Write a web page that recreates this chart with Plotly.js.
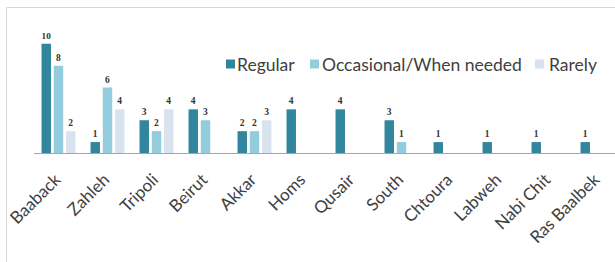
<!DOCTYPE html>
<html><head><meta charset="utf-8">
<script src="https://cdn.plot.ly/plotly-3.0.1.min.js"></script>
<style>html,body{margin:0;padding:0;background:#fff}#chart{width:615px;height:262px}</style>
</head><body><div id="chart"></div>
<script>
const categories = ["Baaback","Zahleh","Tripoli","Beirut","Akkar","Homs","Qusair","South","Chtoura","Labweh","Nabi Chit","Ras Baalbek"];
const regular    = [10, 1, 3, 4, 2, 4, 4, 3, 1, 1, 1, 1];
const occasional = [8, 6, 2, 3, 2, null, null, 1, null, null, null, null];
const rarely     = [2, 4, 4, null, 3, null, null, null, null, null, null, null];
const seriesNames = ["Regular", "Occasional/When needed", "Rarely"];
const colors = ["#31859C", "#93CDDD", "#D9E3F0"];

const labelFont = {family: "Liberation Serif", size: 9.5, color: "#333333", weight: "bold"};
function mk(vals, i) {
  return {
    type: "bar", x: categories, y: vals, name: seriesNames[i],
    marker: {color: colors[i]},
    text: vals.map(v => v == null ? "" : String(v)),
    textposition: "outside", cliponaxis: false,
    textfont: labelFont, hoverinfo: "none", showlegend: false
  };
}
const data = [mk(regular,0), mk(occasional,1), mk(rarely,2)];
const L = 34, R = 0, T = 22, B = 109;
const pw = 615 - L - R, ph = 262 - T - B;
const px = x => (x - L) / pw;
const py = y => (262 - B - y) / ph;

// custom legend positions (pixels)
const legMarkX = [226, 310, 535];
const legTextX = [236, 321, 548];
const legY = 64;
const shapes = [{type: "rect", xref: "paper", yref: "paper",
  x0: px(6.5), x1: 2, y0: -3, y1: py(7.5),
  line: {color: "#D9D9D9", width: 1}, fillcolor: "rgba(0,0,0,0)", layer: "below"}];
const annotations = [];
seriesNames.forEach((n, i) => {
  shapes.push({type: "rect", xref: "paper", yref: "paper",
    x0: px(legMarkX[i]), x1: px(legMarkX[i] + 9), y0: py(legY - 4.5), y1: py(legY + 4.5),
    line: {width: 0}, fillcolor: colors[i]});
  annotations.push({xref: "paper", yref: "paper", x: px(legTextX[i]), y: py(legY), xanchor: "left", yanchor: "middle",
    text: n, showarrow: false, font: {family: "Lato", size: 17.5, color: "#404040"}, borderpad: 0});
});

const layout = {
  width: 615, height: 262,
  margin: {l: L, r: R, t: T, b: B, pad: 0},
  paper_bgcolor: "#fff", plot_bgcolor: "#fff",
  barmode: "group", bargap: 0.25, bargroupgap: 0.23,
  font: {family: "Lato", color: "#404040"},
  xaxis: {
    range: [-0.5, -0.5 + pw / 49], tickangle: -45, showline: true, linecolor: "#A6A6A6", linewidth: 1,
    ticks: "", showgrid: false, zeroline: false, tickfont: {family: "Lato", size: 17, color: "#404040"}, fixedrange: true,
    ticklabelstandoff: 9, ticklabelshift: -3
  },
  yaxis: {range: [0, 12], visible: false, fixedrange: true},
  shapes: shapes, annotations: annotations,
  showlegend: false
};
Plotly.newPlot("chart", data, layout, {displayModeBar: false, staticPlot: true});
</script></body></html>
